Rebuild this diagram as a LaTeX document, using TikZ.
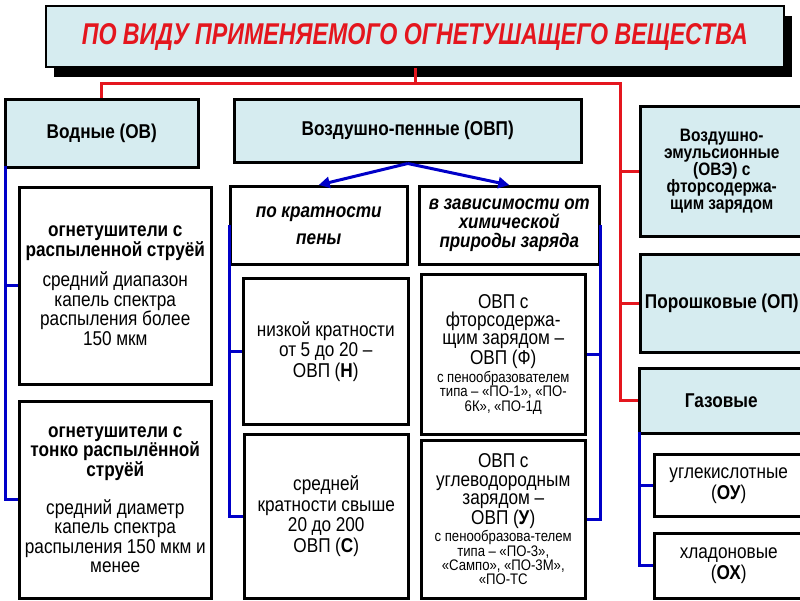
\documentclass[tikz,border=0pt]{standalone}
\usepackage{fontspec}
\setmainfont{Liberation Sans}[FakeStretch=0.86]
\usepackage{graphicx}
\usetikzlibrary{arrows.meta,shadows}
\definecolor{lblue}{RGB}{214,236,240}
\definecolor{cblue}{RGB}{0,0,200}
\definecolor{cred}{RGB}{228,22,30}
\tikzset{
  every node/.append style={execute at begin node={\spaceskip=0.23em\relax}},
  hdr/.style={draw=black, line width=2.5pt, fill=lblue, inner sep=0pt, align=center,
    font=\fontsize{20}{19.5}\selectfont\bfseries, anchor=north west},
  wbox/.style={draw=black, line width=2.5pt, fill=white, inner sep=0pt, align=center,
    font=\fontsize{20}{20.5}\selectfont, anchor=north west},
  redl/.style={draw=cred, line width=3pt},
  bluel/.style={draw=cblue, line width=3pt},
  bluearr/.style={draw=cblue, line width=3pt, -{Triangle[length=11pt,width=11pt]}},
}
\begin{document}
\begin{tikzpicture}[x=1pt,y=-1pt]
\useasboundingbox (0,0) rectangle (800,600);
\clip (0,0) rectangle (800,600);
% title
\node[hdr, line width=2pt, minimum width=738, minimum height=61,
  drop shadow={shadow xshift=7.5pt,shadow yshift=-10pt,fill=black,opacity=1}]
  (title) at (45,5) {\color{cred}\resizebox{666pt}{21pt}{\bfseries\itshape ПО ВИДУ ПРИМЕНЯЕМОГО ОГНЕТУШАЩЕГО ВЕЩЕСТВА}};
% headers
\node[hdr, minimum width=193, minimum height=68, text width=187] (ov) at (4,98) {Водные (ОВ)};
\node[hdr, minimum width=347, minimum height=63, text width=340] (ovp) at (233,98) {Воздушно-пенные (ОВП)};
\node[hdr, minimum width=163, minimum height=130, text width=158,
  font=\fontsize{18}{17}\selectfont\bfseries] (ove) at (639,105)
  {Воздушно-\\эмульсионные\\(ОВЭ) с\\фторсодержа-\\щим зарядом};
\node[hdr, minimum width=163, minimum height=98, text width=162] (op) at (639,253) {Порошковые (ОП)};
\node[hdr, minimum width=164, minimum height=65, text width=158] (gas) at (638,367) {Газовые};
% left column
\node[wbox, minimum width=192, minimum height=197, text width=190,
  font=\fontsize{20}{19.5}\selectfont] (l1) at (18,186)
  {\textbf{огнетушители с}\\\textbf{распыленной струёй}\\[11pt]средний диапазон\\капель спектра\\распыления более\\150 мкм};
\node[wbox, minimum width=192, minimum height=197, text width=190,
  font=\fontsize{20}{19.3}\selectfont] (l2) at (18,400)
  {\textbf{огнетушители с}\\\textbf{тонко распылённой}\\\textbf{струёй}\\[19pt]средний диаметр\\капель спектра\\\mbox{распыления 150 мкм и}\\менее};
% middle column
\node[wbox, minimum width=177, minimum height=78, text width=170,
  font=\fontsize{20}{20}\selectfont\bfseries\itshape] (pk) at (229,185)
  {по кратности\\[7pt]пены};
\node[wbox, minimum width=180, minimum height=78, text width=176,
  font=\fontsize{19.7}{19}\selectfont\bfseries\itshape] (vz) at (418,185)
  {в зависимости от\\химической\\природы заряда};
\node[wbox, minimum width=165, minimum height=146, text width=160] (n) at (242,277)
  {низкой кратности\\от 5 до 20 –\\ОВП (\textbf{Н})};
\node[wbox, minimum width=164, minimum height=164, text width=160] (s) at (243,433)
  {средней\\кратности свыше\\20 до 200\\ОВП (\textbf{С})};
\node[wbox, minimum width=164, minimum height=160, text width=160] (f) at (420,273)
  {{\fontsize{20}{18.3}\selectfont ОВП с\\фторсодержа-\\щим зарядом –\\ОВП (Ф)\par}\vspace{1.5pt}
   {\fontsize{15.3}{14.5}\selectfont\spaceskip=0.23em\relax с пенообразователем\\типа – «ПО-1», «ПО-\\6К», «ПО-1Д\par}};
\node[wbox, minimum width=164, minimum height=158, text width=160] (u) at (420,439)
  {{\fontsize{20}{18.5}\selectfont ОВП с\\углеводородным\\зарядом –\\ОВП (\textbf{У})\par}\vspace{1pt}
   {\fontsize{15.3}{14.3}\selectfont\spaceskip=0.23em\relax с пенообразова-телем\\типа – «ПО-3»,\\«Сампо», «ПО-3М»,\\«ПО-ТС\par}};
% right bottom
\node[wbox, minimum width=149, minimum height=62, text width=146,
  font=\fontsize{20}{21}\selectfont] (ou) at (653,453) {углекислотные\\(\textbf{ОУ})};
\node[wbox, minimum width=149, minimum height=65, text width=146,
  font=\fontsize{20}{21}\selectfont] (ox) at (653,532) {хладоновые\\(\textbf{ОХ})};
% red connectors
\coordinate (rbus) at (620,83);
\draw[redl] (title.south) -- (title.south |- rbus);
\draw[redl] (ov.north) -- (ov.north |- rbus) -- (rbus) |- (gas.west);
\draw[redl] (rbus |- ove.west) -- (ove.west);
\draw[redl] (rbus |- op.west) -- (op.west);
% blue connectors
\coordinate (lbus) at (5,166);
\draw[bluel] (lbus) |- (l2.west);
\draw[bluel] (lbus |- l1.west) -- (l1.west);
\draw[bluel] (pk.west) |- (s.west);
\draw[bluel] (pk.west |- n.west) -- (n.west);
\draw[bluel] (vz.east) |- (u.east);
\draw[bluel] (vz.east |- f.east) -- (f.east);
\coordinate (gbus) at (639,432);
\draw[bluel] (gbus) |- (ox.west);
\draw[bluel] (gbus |- ou.west) -- (ou.west);
\draw[bluearr] (ovp.south) -- (pk.north);
\draw[bluearr] (ovp.south) -- (vz.north);
\end{tikzpicture}
\end{document}
